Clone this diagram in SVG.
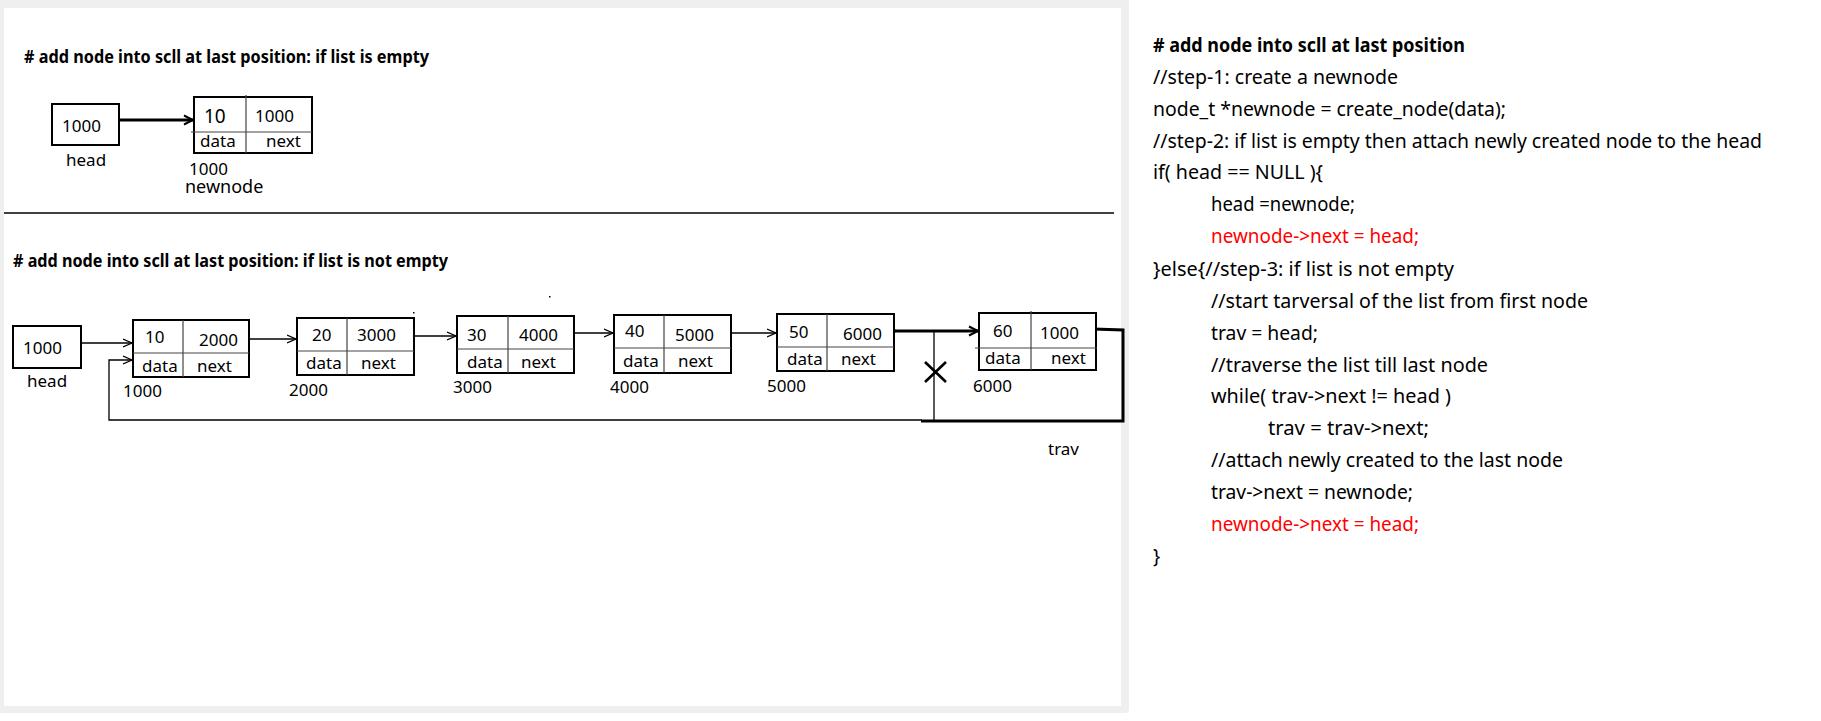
<svg xmlns="http://www.w3.org/2000/svg" width="1821" height="721" viewBox="0 0 1821 721">
<defs>
<style>
text{font-family:"Noto Sans","Open Sans",sans-serif;fill:#000}
.t{font-size:17px}
.big{font-size:19px}
.title{font-size:18px;font-weight:bold}
.code{font-size:19px}
.ctitle{font-size:19px;font-weight:bold}
.red{fill:#ff0000}
.box{fill:#fff;stroke:#000;stroke-width:2}
.div{stroke:#444;stroke-width:1.2;fill:none}
.thin{stroke:#000;stroke-width:1.3;fill:none}
.thick{stroke:#000;stroke-width:3;fill:none}
</style>
<marker id="arr" markerUnits="userSpaceOnUse" markerWidth="12" markerHeight="12" refX="9" refY="5" orient="auto">
<path d="M0,1 L9,5 L0,9" fill="none" stroke="#000" stroke-width="1.3"/>
</marker>
<marker id="arrT" markerUnits="userSpaceOnUse" markerWidth="14" markerHeight="14" refX="10" refY="6" orient="auto">
<path d="M1,1.5 L10,6 L1,10.5" fill="none" stroke="#000" stroke-width="2"/>
</marker>
</defs>
<rect x="0" y="0" width="1821" height="721" fill="#fff"/>
<path d="M0,0 H1129 V709 Q1129,713 1125,713 H0 Z" fill="#efefef"/>
<rect x="4" y="8" width="1117" height="698" fill="#fff"/>

<text class="title" x="24" y="63" textLength="405" lengthAdjust="spacingAndGlyphs"># add node into scll at last position: if list is empty</text>
<line x1="4" y1="213" x2="1114" y2="213" stroke="#000" stroke-width="1.5"/>
<text class="title" x="13" y="267" textLength="435" lengthAdjust="spacingAndGlyphs"># add node into scll at last position: if list is not empty</text>

<g id="connectors">
<path class="thick" d="M119,120 H193" marker-end="url(#arrT)"/>
<path class="thin" d="M81,343 H132" marker-end="url(#arr)"/>
<path class="thin" d="M249,339 H296" marker-end="url(#arr)"/>
<path class="thin" d="M414,336 H456" marker-end="url(#arr)"/>
<path class="thin" d="M574,333 H613" marker-end="url(#arr)"/>
<path class="thin" d="M731,333 H776" marker-end="url(#arr)"/>
<path class="thick" d="M894,331 H978" marker-end="url(#arrT)"/>
<circle cx="894" cy="331" r="2" fill="#000"/>
<path class="thin" d="M934,332 V421"/>
<path class="thin" d="M922,420 H109 V360 H132" marker-end="url(#arr)"/>
<path class="thick" d="M1093,329 L1123,330 V421 H921"/>
<circle cx="1093" cy="329" r="2" fill="#000"/>
<path d="M925,362 L946,382 M925,382 L946,362" stroke="#000" stroke-width="2.6" fill="none"/>
</g>

<g id="head-top">
<rect class="box" x="52" y="104" width="67" height="41"/>
<text class="t" x="62" y="132">1000</text>
<text class="t" x="66" y="166">head</text>
</g>
<g id="newnode-top">
<rect class="box" x="194" y="97" width="118" height="56"/>
<path class="div" d="M246,95 V153 M191,132 H312"/>
<text class="big" x="204" y="123">10</text>
<text class="t" x="255" y="122">1000</text>
<text class="t" x="200" y="147">data</text>
<text class="t" x="266" y="147">next</text>
<text class="t" x="189" y="175">1000</text>
<text class="t" x="185" y="193" style="font-size:18px">newnode</text>
</g>

<g id="head">
<rect class="box" x="13" y="326" width="68" height="42"/>
<text class="t" x="23" y="354">1000</text>
<text class="t" x="27" y="387">head</text>
</g>
<g id="node1000">
<rect class="box" x="133" y="320" width="116" height="57"/>
<path class="div" d="M183,320 V377 M133,353 H249"/>
<text class="t" x="145" y="343">10</text>
<text class="t" x="199" y="346">2000</text>
<text class="t" x="142" y="372">data</text>
<text class="t" x="197" y="372">next</text>
<text class="t" x="123" y="397">1000</text>
</g>
<g id="node2000">
<rect class="box" x="297" y="318" width="117" height="57"/>
<path class="div" d="M347,318 V375 M297,351 H414"/>
<text class="t" x="312" y="341">20</text>
<text class="t" x="357" y="341">3000</text>
<text class="t" x="306" y="369">data</text>
<text class="t" x="361" y="369">next</text>
<text class="t" x="289" y="396">2000</text>
</g>
<g id="node3000">
<rect class="box" x="457" y="316" width="117" height="57"/>
<path class="div" d="M508,316 V373 M457,349 H574"/>
<text class="t" x="467" y="341">30</text>
<text class="t" x="519" y="341">4000</text>
<text class="t" x="467" y="368">data</text>
<text class="t" x="521" y="368">next</text>
<text class="t" x="453" y="393">3000</text>
</g>
<g id="node4000">
<rect class="box" x="614" y="315" width="117" height="58"/>
<path class="div" d="M664,315 V373 M614,348 H731"/>
<text class="t" x="625" y="337">40</text>
<text class="t" x="675" y="341">5000</text>
<text class="t" x="623" y="367">data</text>
<text class="t" x="678" y="367">next</text>
<text class="t" x="610" y="393">4000</text>
</g>
<g id="node5000">
<rect class="box" x="777" y="314" width="117" height="57"/>
<path class="div" d="M827,314 V371 M777,347 H894"/>
<text class="t" x="789" y="338">50</text>
<text class="t" x="843" y="340">6000</text>
<text class="t" x="787" y="365">data</text>
<text class="t" x="841" y="365">next</text>
<text class="t" x="767" y="392">5000</text>
</g>
<g id="node6000">
<rect class="box" x="979" y="313" width="117" height="57"/>
<path class="div" d="M1031,311 V370 M975,348 H1097"/>
<text class="t" x="993" y="337">60</text>
<text class="t" x="1040" y="339">1000</text>
<text class="t" x="985" y="364">data</text>
<text class="t" x="1051" y="364">next</text>
<text class="t" x="973" y="392">6000</text>
</g>
<g id="trav-label">
<text class="t" x="1048" y="455">trav</text>
</g>
<rect x="413" y="312" width="1.5" height="1.5" fill="#000"/>
<rect x="549" y="296" width="1.5" height="1.5" fill="#000"/>

<g id="code">
<text class="ctitle" x="1153" y="52" textLength="312" lengthAdjust="spacingAndGlyphs"># add node into scll at last position</text>
<text class="code" x="1153" y="84" textLength="245" lengthAdjust="spacingAndGlyphs">//step-1: create a newnode</text>
<text class="code" x="1153" y="116" textLength="353" lengthAdjust="spacingAndGlyphs">node_t *newnode = create_node(data);</text>
<text class="code" x="1153" y="148" textLength="609" lengthAdjust="spacingAndGlyphs">//step-2: if list is empty then attach newly created node to the head</text>
<text class="code" x="1153" y="179" textLength="170" lengthAdjust="spacingAndGlyphs">if( head == NULL ){</text>
<text class="code" x="1211" y="211" textLength="144" lengthAdjust="spacingAndGlyphs">head =newnode;</text>
<text class="code red" x="1211" y="243" textLength="208" lengthAdjust="spacingAndGlyphs">newnode-&gt;next = head;</text>
<text class="code" x="1153" y="276" textLength="301" lengthAdjust="spacingAndGlyphs">}else{//step-3: if list is not empty</text>
<text class="code" x="1211" y="308" textLength="377" lengthAdjust="spacingAndGlyphs">//start tarversal of the list from first node</text>
<text class="code" x="1211" y="340" textLength="107" lengthAdjust="spacingAndGlyphs">trav = head;</text>
<text class="code" x="1211" y="372" textLength="277" lengthAdjust="spacingAndGlyphs">//traverse the list till last node</text>
<text class="code" x="1211" y="403" textLength="240" lengthAdjust="spacingAndGlyphs">while( trav-&gt;next != head )</text>
<text class="code" x="1268" y="435" textLength="161" lengthAdjust="spacingAndGlyphs">trav = trav-&gt;next;</text>
<text class="code" x="1211" y="467" textLength="352" lengthAdjust="spacingAndGlyphs">//attach newly created to the last node</text>
<text class="code" x="1211" y="499" textLength="202" lengthAdjust="spacingAndGlyphs">trav-&gt;next = newnode;</text>
<text class="code red" x="1211" y="531" textLength="208" lengthAdjust="spacingAndGlyphs">newnode-&gt;next = head;</text>
<text class="code" x="1153" y="563">}</text>
</g>
</svg>
